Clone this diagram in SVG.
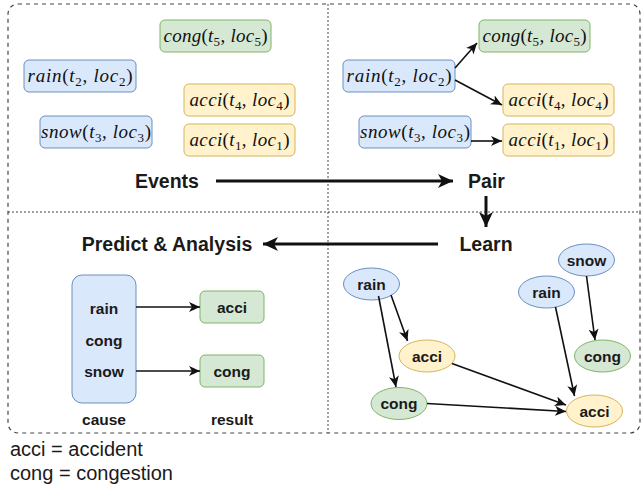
<svg xmlns="http://www.w3.org/2000/svg" width="641" height="486" viewBox="0 0 641 486">
<style>
.blue{fill:#dae8fc;stroke:#6c8ebf;stroke-width:1}
.green{fill:#d5e8d4;stroke:#82b366;stroke-width:1}
.yellow{fill:#fff2cc;stroke:#d6b656;stroke-width:1}
.m{font-family:"Liberation Serif","DejaVu Serif",serif;font-size:19px;fill:#111}
.i{font-style:italic}
.t{font-family:"Liberation Sans",Arial,sans-serif;font-weight:bold;font-size:19.5px;fill:#1a1a1a;text-anchor:middle}
.l{font-family:"Liberation Sans",Arial,sans-serif;font-weight:bold;font-size:15.5px;fill:#1a1a1a;text-anchor:middle}
.lg{font-family:"Liberation Sans",Arial,sans-serif;font-size:20px;fill:#1a1a1a}
.thick{stroke:#111;stroke-width:3;fill:none}
.thin{stroke:#111;stroke-width:1.6;fill:none}
.div{stroke:#444;stroke-width:1;stroke-dasharray:2 2;fill:none}
</style>
<defs>
<marker id="ah" markerUnits="userSpaceOnUse" markerWidth="16" markerHeight="14" refX="15" refY="7" orient="auto">
<path d="M0,0 L15,7 L0,14 L4,7 z" fill="#111"/>
</marker>
<marker id="as" markerUnits="userSpaceOnUse" markerWidth="12" markerHeight="10" refX="11" refY="5" orient="auto">
<path d="M0,0 L11,5 L0,10 L3,5 z" fill="#111"/>
</marker>
</defs>
<rect width="641" height="486" fill="#fff"/>
<g id="frame">
<rect x="8" y="4" width="632" height="429" rx="10" fill="none" stroke="#444" stroke-width="1.2" stroke-dasharray="4 4"/>
<line class="div" x1="328" y1="4" x2="328" y2="433"/>
<line class="div" x1="8" y1="212" x2="640" y2="212"/>
</g>
<g id="events-panel">
<g id="e-cong5"><rect class="green" x="160" y="20" width="111" height="32" rx="5"/><text class="m" x="215.5" y="42" text-anchor="middle" textLength="104"><tspan class="i">cong</tspan>(<tspan class="i">t</tspan><tspan font-size="13" dy="4">5</tspan><tspan dy="-4">, </tspan><tspan class="i">loc</tspan><tspan font-size="13" dy="4">5</tspan><tspan dy="-4">)</tspan></text></g>
<g id="e-rain2"><rect class="blue" x="24" y="60" width="112" height="32" rx="5"/><text class="m" x="80" y="82" text-anchor="middle" textLength="105"><tspan class="i">rain</tspan>(<tspan class="i">t</tspan><tspan font-size="13" dy="4">2</tspan><tspan dy="-4">, </tspan><tspan class="i">loc</tspan><tspan font-size="13" dy="4">2</tspan><tspan dy="-4">)</tspan></text></g>
<g id="e-acci4"><rect class="yellow" x="184" y="84" width="111" height="32" rx="5"/><text class="m" x="239.5" y="106" text-anchor="middle" textLength="100"><tspan class="i">acci</tspan>(<tspan class="i">t</tspan><tspan font-size="13" dy="4">4</tspan><tspan dy="-4">, </tspan><tspan class="i">loc</tspan><tspan font-size="13" dy="4">4</tspan><tspan dy="-4">)</tspan></text></g>
<g id="e-snow3"><rect class="blue" x="40" y="116" width="112" height="32" rx="5"/><text class="m" x="96" y="138" text-anchor="middle" textLength="110"><tspan class="i">snow</tspan>(<tspan class="i">t</tspan><tspan font-size="13" dy="4">3</tspan><tspan dy="-4">, </tspan><tspan class="i">loc</tspan><tspan font-size="13" dy="4">3</tspan><tspan dy="-4">)</tspan></text></g>
<g id="e-acci1"><rect class="yellow" x="184" y="124" width="111" height="32" rx="5"/><text class="m" x="239.5" y="146" text-anchor="middle" textLength="100"><tspan class="i">acci</tspan>(<tspan class="i">t</tspan><tspan font-size="13" dy="4">1</tspan><tspan dy="-4">, </tspan><tspan class="i">loc</tspan><tspan font-size="13" dy="4">1</tspan><tspan dy="-4">)</tspan></text></g>
<g id="t-events"><text class="t" x="167" y="188">Events</text></g>
</g>
<g id="pair-panel">
<g id="p-cong5"><rect class="green" x="479" y="20" width="111" height="32" rx="5"/><text class="m" x="534.5" y="42" text-anchor="middle" textLength="104"><tspan class="i">cong</tspan>(<tspan class="i">t</tspan><tspan font-size="13" dy="4">5</tspan><tspan dy="-4">, </tspan><tspan class="i">loc</tspan><tspan font-size="13" dy="4">5</tspan><tspan dy="-4">)</tspan></text></g>
<g id="p-rain2"><rect class="blue" x="343" y="60" width="112" height="32" rx="5"/><text class="m" x="399" y="82" text-anchor="middle" textLength="105"><tspan class="i">rain</tspan>(<tspan class="i">t</tspan><tspan font-size="13" dy="4">2</tspan><tspan dy="-4">, </tspan><tspan class="i">loc</tspan><tspan font-size="13" dy="4">2</tspan><tspan dy="-4">)</tspan></text></g>
<g id="p-acci4"><rect class="yellow" x="503" y="84" width="111" height="32" rx="5"/><text class="m" x="558.5" y="106" text-anchor="middle" textLength="100"><tspan class="i">acci</tspan>(<tspan class="i">t</tspan><tspan font-size="13" dy="4">4</tspan><tspan dy="-4">, </tspan><tspan class="i">loc</tspan><tspan font-size="13" dy="4">4</tspan><tspan dy="-4">)</tspan></text></g>
<g id="p-snow3"><rect class="blue" x="359" y="116" width="112" height="32" rx="5"/><text class="m" x="415" y="138" text-anchor="middle" textLength="110"><tspan class="i">snow</tspan>(<tspan class="i">t</tspan><tspan font-size="13" dy="4">3</tspan><tspan dy="-4">, </tspan><tspan class="i">loc</tspan><tspan font-size="13" dy="4">3</tspan><tspan dy="-4">)</tspan></text></g>
<g id="p-acci1"><rect class="yellow" x="503" y="124" width="111" height="32" rx="5"/><text class="m" x="558.5" y="146" text-anchor="middle" textLength="100"><tspan class="i">acci</tspan>(<tspan class="i">t</tspan><tspan font-size="13" dy="4">1</tspan><tspan dy="-4">, </tspan><tspan class="i">loc</tspan><tspan font-size="13" dy="4">1</tspan><tspan dy="-4">)</tspan></text></g>
<g id="t-pair"><text class="t" x="486.5" y="188">Pair</text></g>
</g>
<g id="learn-panel">
<g id="t-learn"><text class="t" x="486" y="251">Learn</text></g>
<g id="g-rainL"><ellipse class="blue" cx="371.5" cy="284" rx="28" ry="16"/><text class="l" x="371.5" y="289.5">rain</text></g>
<g id="g-acciM"><ellipse class="yellow" cx="427" cy="356" rx="28" ry="16"/><text class="l" x="427" y="361.5">acci</text></g>
<g id="g-congL"><ellipse class="green" cx="399" cy="403.5" rx="28" ry="16"/><text class="l" x="399" y="409">cong</text></g>
<g id="g-snow"><ellipse class="blue" cx="586.5" cy="260" rx="28" ry="16"/><text class="l" x="586.5" y="265.5">snow</text></g>
<g id="g-rainR"><ellipse class="blue" cx="546.5" cy="292" rx="28" ry="16"/><text class="l" x="546.5" y="297.5">rain</text></g>
<g id="g-congR"><ellipse class="green" cx="602.5" cy="356" rx="28" ry="16"/><text class="l" x="602.5" y="361.5">cong</text></g>
<g id="g-acciR"><ellipse class="yellow" cx="594.5" cy="411" rx="28" ry="16"/><text class="l" x="594.5" y="416.5">acci</text></g>
</g>
<g id="predict-panel">
<g id="t-predict"><text class="t" x="167" y="251">Predict &amp; Analysis</text></g>
<g id="cause-box"><rect class="blue" x="72" y="275" width="64" height="128" rx="10"/><text class="l" x="104" y="314">rain</text><text class="l" x="104" y="345.5">cong</text><text class="l" x="104" y="377">snow</text></g>
<g id="r-acci"><rect class="green" x="200" y="291" width="64" height="32" rx="5"/><text class="l" x="232" y="313">acci</text></g>
<g id="r-cong"><rect class="green" x="200" y="355" width="64" height="32" rx="5"/><text class="l" x="232" y="377">cong</text></g>
<g id="lbl-cause"><text class="l" x="104" y="425">cause</text></g>
<g id="lbl-result"><text class="l" x="232" y="425">result</text></g>
</g>
<g id="connectors">
<line class="thick" x1="216" y1="181" x2="453" y2="181" marker-end="url(#ah)"/>
<line class="thick" x1="486" y1="196" x2="486" y2="227" marker-end="url(#ah)"/>
<line class="thick" x1="438" y1="244" x2="263" y2="244" marker-end="url(#ah)"/>
<line class="thin" x1="455" y1="68" x2="477" y2="43" marker-end="url(#as)"/>
<line class="thin" x1="455" y1="80" x2="502" y2="105" marker-end="url(#as)"/>
<line class="thin" x1="471" y1="141" x2="502" y2="141" marker-end="url(#as)"/>
<line class="thin" x1="136" y1="307" x2="200" y2="307" marker-end="url(#as)"/>
<line class="thin" x1="136" y1="371" x2="200" y2="371" marker-end="url(#as)"/>
<line class="thin" x1="391" y1="295" x2="407.5" y2="341" marker-end="url(#as)"/>
<line class="thin" x1="378.5" y1="296" x2="396" y2="387" marker-end="url(#as)"/>
<line class="thin" x1="452" y1="363.5" x2="566" y2="405" marker-end="url(#as)"/>
<line class="thin" x1="427" y1="403.5" x2="566" y2="411.5" marker-end="url(#as)"/>
<line class="thin" x1="555.5" y1="307" x2="574.5" y2="396" marker-end="url(#as)"/>
<line class="thin" x1="586.5" y1="276" x2="595" y2="340" marker-end="url(#as)"/>
</g>
<g id="legend">
<text class="lg" x="10" y="456">acci = accident</text>
<text class="lg" x="10" y="480">cong = congestion</text>
</g>
</svg>
